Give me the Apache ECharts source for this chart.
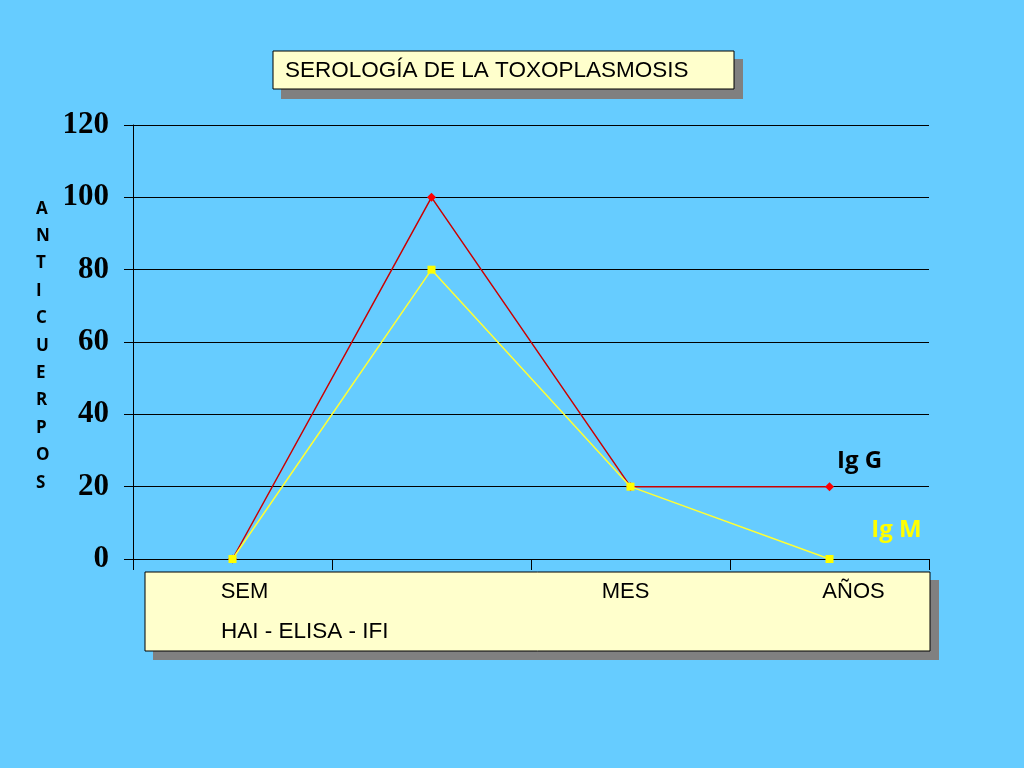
<!DOCTYPE html>
<html>
<head>
<meta charset="utf-8">
<script src="https://cdn.jsdelivr.net/npm/echarts@6/dist/echarts.min.js"></script>
<style>
html,body{margin:0;padding:0;background:#66CCFF;}
#chart{width:1024px;height:768px;}
</style>
</head>
<body>
<div id="chart"></div>
<script>
const categories = ['SEM', '', 'MES', 'AÑOS'];
const igG = [0, 100, 20, 20];
const igM = [0, 80, 20, 0];
const yTicks = [0, 20, 40, 60, 80, 100, 120];
const titleText = 'SEROLOGÍA DE LA TOXOPLASMOSIS';
const axisName = 'ANTICUERPOS';
const subLabel = 'HAI - ELISA - IFI';
// horizontal nudge of each category label (style only)
const labelShift = [12, 0, -5, 24];

const chart = echarts.init(document.getElementById('chart'));

function withEndLabel(arr, name, color, offset) {
  return arr.map((v, i) => i === arr.length - 1 ? {
    value: v,
    label: {
      show: true, formatter: name, color: color,
      fontFamily: 'Open Sans', fontWeight: 'bold', fontSize: 24,
      position: 'inside', offset: offset
    }
  } : v);
}

const rich = {};
labelShift.forEach((s, i) => {
  rich['c' + i] = {
    fontFamily: 'Liberation Sans', fontSize: 22, color: '#000',
    padding: s >= 0 ? [0, 0, 0, 2 * s] : [0, -2 * s, 0, 0]
  };
});

const option = {
  backgroundColor: '#66CCFF',
  animation: false,
  title: {
    text: titleText,
    left: 285, top: 59, padding: 0,
    textStyle: {fontFamily: 'Liberation Sans', fontWeight: 'normal', fontSize: 22.5, color: '#000'}
  },
  graphic: [
    {type: 'rect', z: -5, shape: {x: 281, y: 59, width: 462, height: 40}, style: {fill: '#808080'}},
    {type: 'rect', z: -4, shape: {x: 273, y: 51, width: 461, height: 38}, style: {fill: '#FFFFCC', stroke: '#000', lineWidth: 1}},
    {type: 'rect', z: -5, shape: {x: 153, y: 580, width: 786, height: 80}, style: {fill: '#808080'}},
    {type: 'rect', z: -4, shape: {x: 145, y: 572, width: 785, height: 79}, style: {fill: '#FFFFCC', stroke: '#000', lineWidth: 1}},
    {type: 'text', z: 5, left: 221, top: 620,
      style: {text: subLabel, fontFamily: 'Liberation Sans', fontSize: 22.5, fill: '#000'}},
    {type: 'text', z: 5, left: 36, top: 195,
      style: {text: axisName.split('').join('\n'), fontFamily: 'Open Sans', fontWeight: 'bold',
        fontSize: 17, lineHeight: 27.4, fill: '#000', align: 'center', x: 9}}
  ],
  grid: {left: 133, right: 95, top: 125, bottom: 209, containLabel: false},
  xAxis: {
    type: 'category', data: categories, boundaryGap: true, z: 10,
    axisLine: {lineStyle: {color: '#000', width: 1}},
    axisTick: {show: true, length: 11, inside: false, lineStyle: {color: '#000'}},
    axisLabel: {margin: 22, color: '#000', fontFamily: 'Liberation Sans', fontSize: 22, rich: rich,
      formatter: function (v, i) { return v ? '{c' + i + '|' + v + '}' : ''; }}
  },
  yAxis: {
    type: 'value', min: 0, max: 120, interval: 20, z: 10,
    axisLine: {show: true, lineStyle: {color: '#000', width: 1}},
    axisTick: {show: true, length: 9, lineStyle: {color: '#000'}},
    splitLine: {show: true, lineStyle: {color: '#000', width: 1}},
    axisLabel: {margin: 24, color: '#000', fontFamily: 'Liberation Serif', fontWeight: 'bold', fontSize: 31,
      padding: [4, 0, 0, 0],
      formatter: function (v) { return yTicks.indexOf(v) >= 0 ? String(v) : ''; }}
  },
  series: [
    {
      name: 'Ig G', type: 'line', z: 20,
      data: withEndLabel(igG, 'Ig G', '#000', [30, -26]),
      symbol: 'diamond', symbolSize: 9,
      lineStyle: {color: '#CC0000', width: 1.5},
      itemStyle: {color: '#FF0000'}
    },
    {
      name: 'Ig M', type: 'line', z: 21,
      data: withEndLabel(igM, 'Ig M', '#FFFF00', [67, -29]),
      symbol: 'rect', symbolSize: 8,
      lineStyle: {color: '#FFFF33', width: 1.5},
      itemStyle: {color: '#FFFF00'}
    }
  ]
};
chart.setOption(option);
</script>
</body>
</html>
